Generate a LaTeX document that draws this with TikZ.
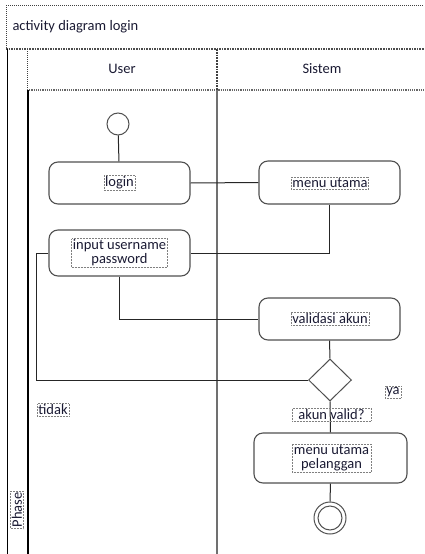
\documentclass[tikz,border=0pt]{standalone}
\usepackage{fontspec}
\setmainfont{Carlito}
\usetikzlibrary{shapes.geometric}
\definecolor{boxline}{HTML}{505050}
\definecolor{laneline}{HTML}{707070}
\definecolor{txt}{HTML}{1A1A33}
\begin{document}
\begin{tikzpicture}[x=1pt,y=-1pt,
  act/.style={draw=boxline,line width=1.1pt,rounded corners=9pt,fill=white},
  lbl/.style={draw=gray,densely dotted,line width=0.5pt,inner sep=1.2pt,text=txt,font=\fontsize{14.5}{16}\selectfont,align=center},
  plain/.style={text=txt,font=\fontsize{14.5}{16}\selectfont},
  conn/.style={draw=black!85,line width=1pt},
  frame/.style={draw=black!75,densely dotted,line width=1pt}]
\useasboundingbox (0,0) rectangle (424,554);
% frame
\draw[frame] (6,5) -- (424,5);
\draw[frame] (6,5) -- (6,49);
\draw[draw=black!70,line width=1.6pt,densely dotted] (6,49) -- (424,49);
\draw[draw=black,line width=1pt] (7,49) -- (7,554);
\node[plain,anchor=west] (title) at (9,27) {activity diagram login};
% lanes header
\draw[frame] (27,49) -- (27,90);
\draw[draw=black!60,line width=1.2pt,densely dotted] (27,90) -- (424,90);
\draw[draw=black!75,line width=1.8pt,densely dotted] (217,49) -- (217,90);
\draw[draw=black,line width=2pt] (28,90) -- (28,554);
\draw[draw=laneline,line width=1.8pt] (217,90) -- (217,554);
\node[plain] (user) at (122,69) {User};
\node[plain] (sistem) at (322,69) {Sistem};
\node[lbl,rotate=90] (phase) at (17,510) {Phase};
% nodes
\node[circle,draw=boxline,line width=1pt,minimum size=22pt,inner sep=0pt,fill=white] (start) at (118,124) {};
\node[act,minimum width=141pt,minimum height=42pt] (login) at (119.5,183) {};
\node[act,minimum width=141pt,minimum height=43pt] (menu) at (329.5,182.5) {};
\node[act,minimum width=141pt,minimum height=46pt] (input) at (119.5,253) {};
\node[act,minimum width=141pt,minimum height=42pt] (valid) at (329.5,319) {};
\node[diamond,draw=boxline,line width=1pt,minimum width=43pt,minimum height=42pt,inner sep=0pt,fill=white] (dec) at (330,380) {};
\node[act,minimum width=153pt,minimum height=50pt] (mup) at (330.5,458) {};
\node[circle,draw=boxline,line width=1pt,minimum size=32pt,inner sep=0pt,fill=white] (end) at (330,518) {};
\node[circle,draw=boxline,line width=1pt,minimum size=24pt,inner sep=0pt] (endin) at (330,518) {};
% connectors
\coordinate (lp) at (36,0);
\draw[conn] (start) -- (login);
\draw[conn] (login.east) -- (menu.west);
\draw[conn] (menu.south) -- (menu.south |- input.east) -- (input.east);
\draw[conn] (input.south) -- (input.south |- valid.west) -- (valid.west);
\draw[conn] (valid.south) -- (dec.north);
\draw[conn] (input.west) -- (lp |- input.west) -- (lp |- dec.west) -- (dec.west);
\draw[conn] (dec.south) -- (mup.north);
\draw[conn] (mup.south) -- (end.north);
% labels
\node[lbl] (tlogin) at (119.5,183) {login};
\node[lbl] (tmenu) at (330,183) {menu utama};
\node[lbl] (tinput) at (119.5,253) {input username\\[-2pt]password};
\node[lbl] (tvalid) at (330,319) {validasi akun};
\node[lbl] (tya) at (393,392) {ya};
\node[lbl] (ttidak) at (53,410) {tidak};
\node[lbl,minimum width=79pt,anchor=north] (takun) at (331.5,408) {akun valid?};
\node[lbl,minimum width=79pt] (tmup) at (331.5,458) {menu utama\\[-2pt]pelanggan};
\end{tikzpicture}
\end{document}
